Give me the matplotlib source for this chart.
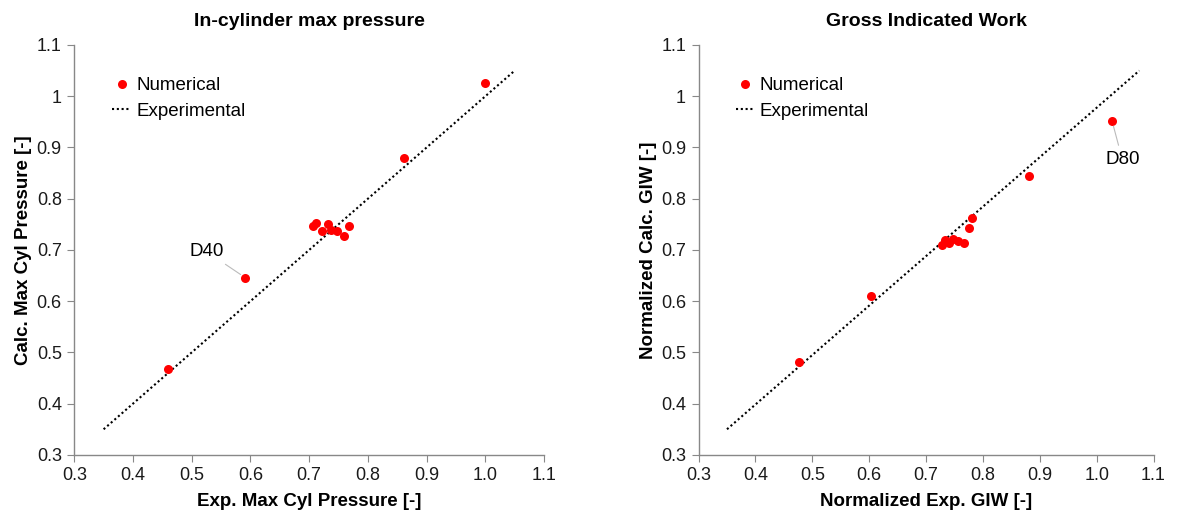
import matplotlib
matplotlib.use("Agg")
import matplotlib.pyplot as plt
from matplotlib.ticker import FuncFormatter, MultipleLocator

plt.rcParams['font.family'] = ['Liberation Sans', 'DejaVu Sans']

# Left panel: in-cylinder max pressure
pmax_exp = [0.46, 0.591, 0.706, 0.711, 0.721, 0.732, 0.738, 0.748, 0.759, 0.768, 0.862, 1.0]
pmax_calc = [0.467, 0.646, 0.747, 0.752, 0.736, 0.750, 0.739, 0.737, 0.727, 0.747, 0.879, 1.026]
pmax_line_x = [0.35, 1.05]
pmax_line_y = [0.35, 1.05]

# Right panel: gross indicated work
giw_exp = [0.476, 0.604, 0.728, 0.733, 0.741, 0.748, 0.756, 0.766, 0.775, 0.781, 0.881, 1.027]
giw_calc = [0.482, 0.610, 0.710, 0.720, 0.713, 0.721, 0.718, 0.713, 0.742, 0.763, 0.844, 0.952]
giw_line_x = [0.35, 1.075]
giw_line_y = [0.35, 1.05]

titles = ["In-cylinder max pressure", "Gross Indicated Work"]
xlabels = ["Exp. Max Cyl Pressure [-]", "Normalized Exp. GIW [-]"]
ylabels = ["Calc. Max Cyl Pressure [-]", "Normalized Calc. GIW [-]"]

fig = plt.figure(figsize=(11.88, 5.14), dpi=100)
ax1 = fig.add_axes([0.0625, 0.115, 0.3955, 0.7975])
ax2 = fig.add_axes([0.588, 0.115, 0.383, 0.7975])

panels = [(ax1, pmax_exp, pmax_calc, pmax_line_x, pmax_line_y),
          (ax2, giw_exp, giw_calc, giw_line_x, giw_line_y)]

for i, (ax, xs, ys, lx, ly) in enumerate(panels):
    ax.plot(xs, ys, 'o', color='red', markersize=6.5, markeredgewidth=0,
            label='Numerical', zorder=3)
    ax.plot(lx, ly, linestyle=(0, (1, 1.3)), color='black', linewidth=1.5,
            label='Experimental', zorder=2)
    ax.set_xlim(0.3, 1.1)
    ax.set_ylim(0.3, 1.1)
    ax.xaxis.set_major_locator(MultipleLocator(0.1))
    ax.yaxis.set_major_locator(MultipleLocator(0.1))
    ax.xaxis.set_major_formatter(FuncFormatter(lambda v, p: '%.1f' % v))
    ax.yaxis.set_major_formatter(FuncFormatter(lambda v, p: '%g' % round(v, 1)))
    for s in ['top', 'right']:
        ax.spines[s].set_visible(False)
    for s in ['left', 'bottom']:
        ax.spines[s].set_color('#888888')
        ax.spines[s].set_linewidth(1.0)
    ax.tick_params(direction='out', length=5, color='#888888', labelsize=13,
                   labelcolor='#1a1a1a', pad=4)
    ax.set_title(titles[i], fontsize=14, fontweight='bold', pad=14)
    ax.set_xlabel(xlabels[i], fontsize=13.5, fontweight='bold', labelpad=6)
    ax.set_ylabel(ylabels[i], fontsize=13.5, fontweight='bold', labelpad=3)
    ax.legend(loc='upper left', bbox_to_anchor=(0.065, 0.94), frameon=False,
              fontsize=13.5, handlelength=1.0, handletextpad=0.3,
              borderaxespad=0, labelspacing=0.45, markerscale=1.0)

# labelled points
ax1.annotate('D40', xy=(pmax_exp[1], pmax_calc[1]), xytext=(0.525, 0.697),
             fontsize=13.5, ha='center', va='center',
             arrowprops=dict(arrowstyle='-', color='#bbbbbb', lw=0.8,
                             shrinkA=2, shrinkB=4))
ax2.annotate('D80', xy=(giw_exp[-1], giw_calc[-1]), xytext=(1.045, 0.877),
             fontsize=13.5, ha='center', va='center',
             arrowprops=dict(arrowstyle='-', color='#bbbbbb', lw=0.8,
                             shrinkA=2, shrinkB=4))

fig.savefig('out.png', dpi=100)
